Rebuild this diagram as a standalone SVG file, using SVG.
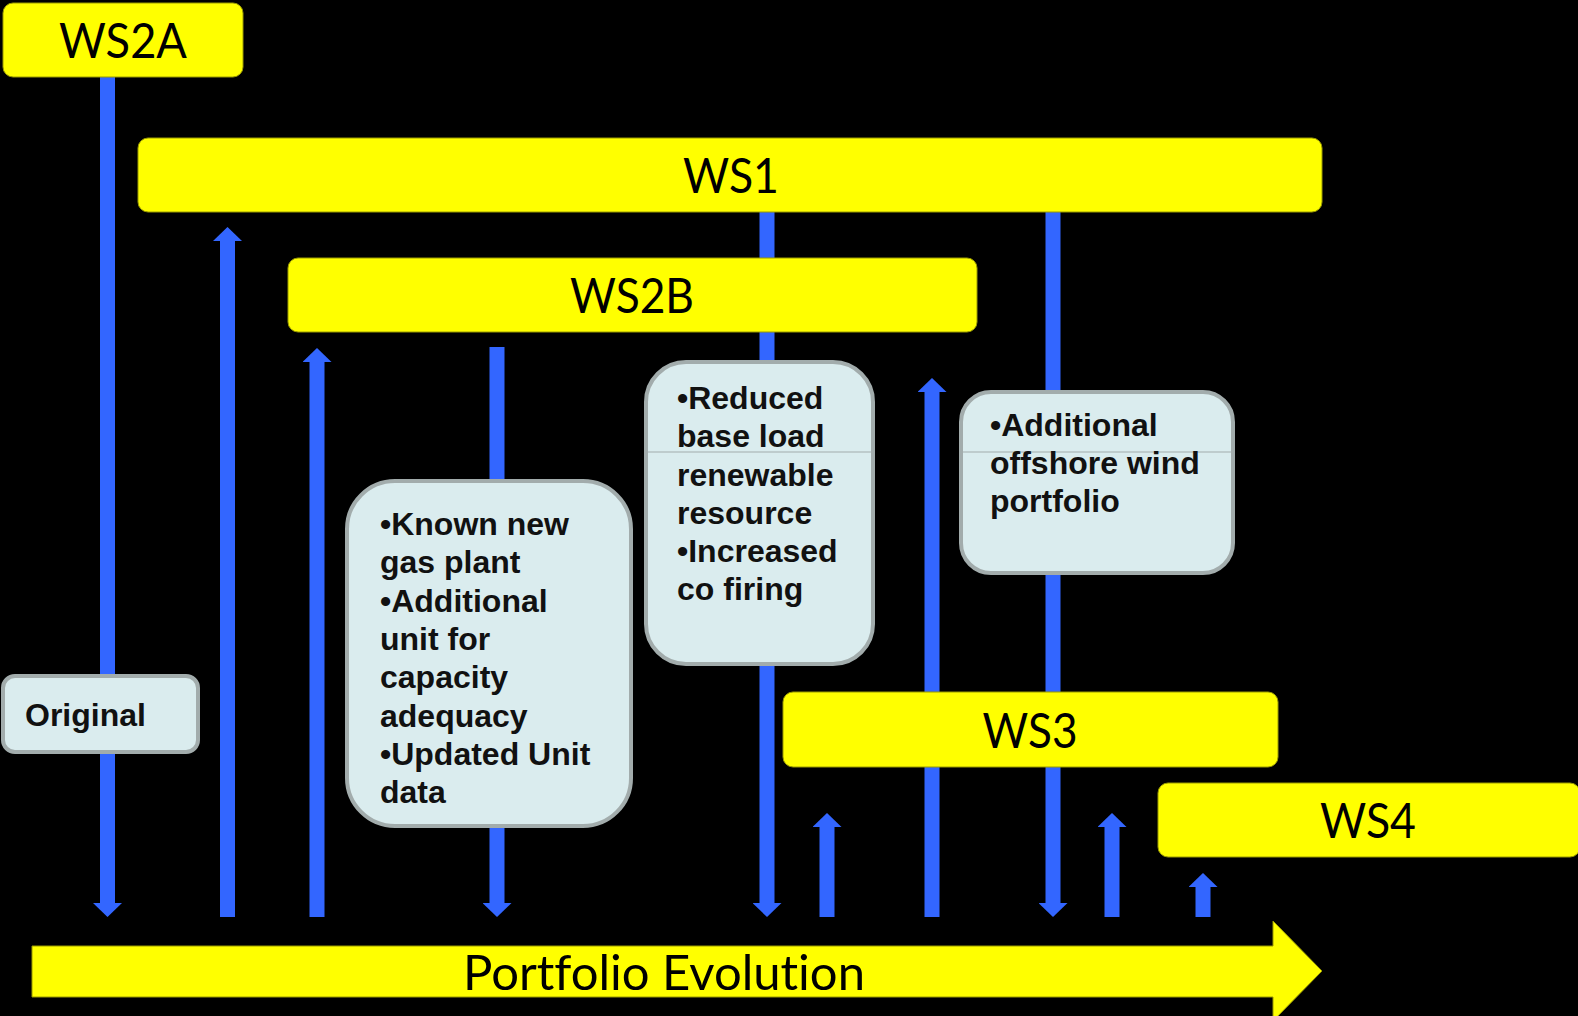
<svg xmlns="http://www.w3.org/2000/svg" width="1578" height="1016" viewBox="0 0 1578 1016">
<defs>
<style>
.bar{fill:#ffff00;stroke:#9a9a00;stroke-width:1}
.lbl{font-family:Lato,"Open Sans","Liberation Sans",sans-serif;font-size:49px;fill:#000;text-anchor:middle;font-variant-ligatures:none}
.box{fill:#daecee;stroke:#a2acac;stroke-width:4}
.txt{font-family:"Liberation Sans",Arial,sans-serif;font-weight:bold;font-size:32px;fill:#111}
.conn{stroke:#3366ff;stroke-width:15;fill:none}
.arr{marker-end:url(#head)}
.rule{stroke:#a2acac;stroke-width:1}
</style>
<marker id="head" viewBox="0 0 14 29" refX="0" refY="14.5" markerWidth="14" markerHeight="29" markerUnits="userSpaceOnUse" orient="auto">
<path d="M0,0 L14,14.5 L0,29 Z" fill="#3366ff"/>
</marker>
</defs>
<rect width="1578" height="1016" fill="#000"/>
<g id="connectors">
<line class="conn arr" x1="107.5" y1="77" x2="107.5" y2="903"/>
<line class="conn arr" x1="227.5" y1="917" x2="227.5" y2="241"/>
<line class="conn arr" x1="317" y1="917" x2="317" y2="362"/>
<line class="conn arr" x1="497" y1="347" x2="497" y2="903"/>
<line class="conn arr" x1="767" y1="212" x2="767" y2="903"/>
<line class="conn arr" x1="827" y1="917" x2="827" y2="827"/>
<line class="conn arr" x1="932" y1="917" x2="932" y2="392"/>
<line class="conn arr" x1="1053" y1="212" x2="1053" y2="903"/>
<line class="conn arr" x1="1112" y1="917" x2="1112" y2="827"/>
<line class="conn arr" x1="1203" y1="917" x2="1203" y2="887"/>
</g>
<g id="ws2a">
<rect class="bar" x="3" y="3" width="240" height="74" rx="10"/>
<text class="lbl" x="123" y="58" textLength="128" lengthAdjust="spacingAndGlyphs">WS2A</text>
</g>
<g id="ws1">
<rect class="bar" x="138" y="138" width="1184" height="74" rx="10"/>
<text class="lbl" x="731" y="193" textLength="96" lengthAdjust="spacingAndGlyphs">WS1</text>
</g>
<g id="ws2b">
<rect class="bar" x="288" y="258" width="689" height="74" rx="10"/>
<text class="lbl" x="632" y="313" textLength="124" lengthAdjust="spacingAndGlyphs">WS2B</text>
</g>
<g id="ws3">
<rect class="bar" x="783" y="692" width="495" height="75" rx="10"/>
<text class="lbl" x="1030" y="748" textLength="95" lengthAdjust="spacingAndGlyphs">WS3</text>
</g>
<g id="ws4">
<rect class="bar" x="1158" y="783" width="422" height="74" rx="10"/>
<text class="lbl" x="1368" y="838" textLength="96" lengthAdjust="spacingAndGlyphs">WS4</text>
</g>
<g id="portfolio">
<path class="bar" d="M32,946 L1273,946 L1273,921 L1322,971 L1273,1021 L1273,997 L32,997 Z"/>
<text class="lbl" x="664" y="990">Portfolio Evolution</text>
</g>
<g id="original">
<rect class="box" x="3" y="676" width="195" height="76" rx="12"/>
<text class="txt" x="25" y="726">Original</text>
</g>
<g id="known">
<rect class="box" x="347" y="481" width="284" height="345" rx="48"/>
<text class="txt" x="380" y="535">•Known new</text>
<text class="txt" x="380" y="573">gas plant</text>
<text class="txt" x="380" y="612">•Additional</text>
<text class="txt" x="380" y="650">unit for</text>
<text class="txt" x="380" y="688">capacity</text>
<text class="txt" x="380" y="727">adequacy</text>
<text class="txt" x="380" y="765">•Updated Unit</text>
<text class="txt" x="380" y="803">data</text>
</g>
<g id="reduced">
<rect class="box" x="646" y="362" width="227" height="302" rx="40"/>
<line class="rule" x1="644" y1="452" x2="875" y2="452"/>
<text class="txt" x="677" y="409">•Reduced</text>
<text class="txt" x="677" y="447">base load</text>
<text class="txt" x="677" y="486">renewable</text>
<text class="txt" x="677" y="524">resource</text>
<text class="txt" x="677" y="562">•Increased</text>
<text class="txt" x="677" y="600">co firing</text>
</g>
<g id="offshore">
<rect class="box" x="961" y="392" width="272" height="181" rx="30"/>
<line class="rule" x1="959" y1="452" x2="1235" y2="452"/>
<text class="txt" x="990" y="436">•Additional</text>
<text class="txt" x="990" y="474">offshore wind</text>
<text class="txt" x="990" y="512">portfolio</text>
</g>
</svg>
